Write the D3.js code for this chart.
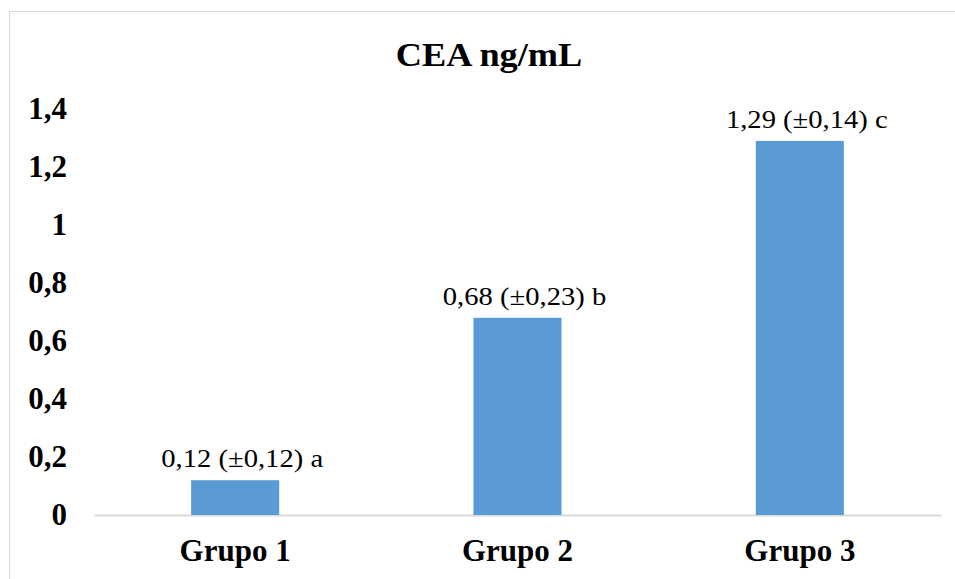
<!DOCTYPE html>
<html>
<head>
<meta charset="utf-8">
<script src="https://cdn.jsdelivr.net/npm/d3@7"></script>
<style>
  body { margin: 0; background: #fff; }
  text { font-family: 'Liberation Serif', 'Times New Roman', serif; fill: #000; }
</style>
</head>
<body>
<div id="chart"></div>
<script>
const groups = ['Grupo 1', 'Grupo 2', 'Grupo 3']
const means = [0.12, 0.68, 1.29]
const errors = ['0,12', '0,23', '0,14']
const letters = ['a', 'b', 'c']
const yTicks = [0, 0.2, 0.4, 0.6, 0.8, 1, 1.2, 1.4]

const W = 955
const H = 579
const margin = { top: 109, right: 14, bottom: 64, left: 94 }
const width = W - margin.left - margin.right
const height = H - margin.top - margin.bottom

const fmt = v => String(v).replace('.', ',')

// the source text is a little wider than Liberation Serif
const widen = (sel, k) => sel.each(function () {
  const w = this.getComputedTextLength()
  d3.select(this).attr('textLength', w * k).attr('lengthAdjust', 'spacingAndGlyphs')
})

const svg = d3.select('#chart')
  .append('svg')
  .attr('width', W)
  .attr('height', H)

// chart border
svg.append('rect')
  .attr('x', 9.5)
  .attr('y', 11.5)
  .attr('width', W + 20)
  .attr('height', H + 20)
  .attr('fill', 'none')
  .attr('stroke', '#d9d9d9')

svg.append('text')
  .attr('x', 489)
  .attr('y', 66)
  .attr('text-anchor', 'middle')
  .style('font-size', '33px')
  .style('font-weight', 'bold')
  .text('CEA ng/mL')
  .call(widen, 1.1)

const g = svg.append('g')
  .attr('transform', `translate(${margin.left},${margin.top})`)

const x = d3.scaleBand()
  .domain(groups)
  .range([0, width])

const y = d3.scaleLinear()
  .domain([0, 1.4])
  .range([height, 0])

const barW = x.bandwidth() * 0.312

// y axis labels only
const yAxis = g.append('g')
  .call(d3.axisLeft(y).tickValues(yTicks).tickFormat(fmt).tickSize(0).tickPadding(27))
yAxis.select('.domain').remove()
yAxis.selectAll('text')
  .style('font-family', "'Liberation Serif', serif")
  .style('font-size', '31px')
  .style('font-weight', 'bold')
  .attr('fill', '#000')

// x axis
const xAxis = g.append('g')
  .attr('transform', `translate(0,${height})`)
  .call(d3.axisBottom(x).tickSize(0).tickPadding(24))
xAxis.select('.domain').attr('stroke', '#d9d9d9').attr('stroke-width', 2)
xAxis.selectAll('text')
  .style('font-family', "'Liberation Serif', serif")
  .style('font-size', '31px')
  .style('font-weight', 'bold')
  .attr('fill', '#000')

g.selectAll('.bar')
  .data(groups)
  .enter()
  .append('rect')
  .attr('class', 'bar')
  .attr('x', d => x(d) + x.bandwidth() / 2 - barW / 2)
  .attr('y', (_, i) => y(means[i]))
  .attr('width', barW)
  .attr('height', (_, i) => height - y(means[i]))
  .attr('fill', '#5b9bd5')

g.selectAll('.lbl')
  .data(groups)
  .enter()
  .append('text')
  .attr('class', 'lbl')
  .attr('x', d => x(d) + x.bandwidth() / 2 + 7)
  .attr('y', (_, i) => y(means[i]) - 13)
  .attr('text-anchor', 'middle')
  .style('font-size', '26px')
  .text((_, i) => `${fmt(means[i])} (±${errors[i]}) ${letters[i]}`)
  .call(widen, 1.1)
</script>
</body>
</html>
